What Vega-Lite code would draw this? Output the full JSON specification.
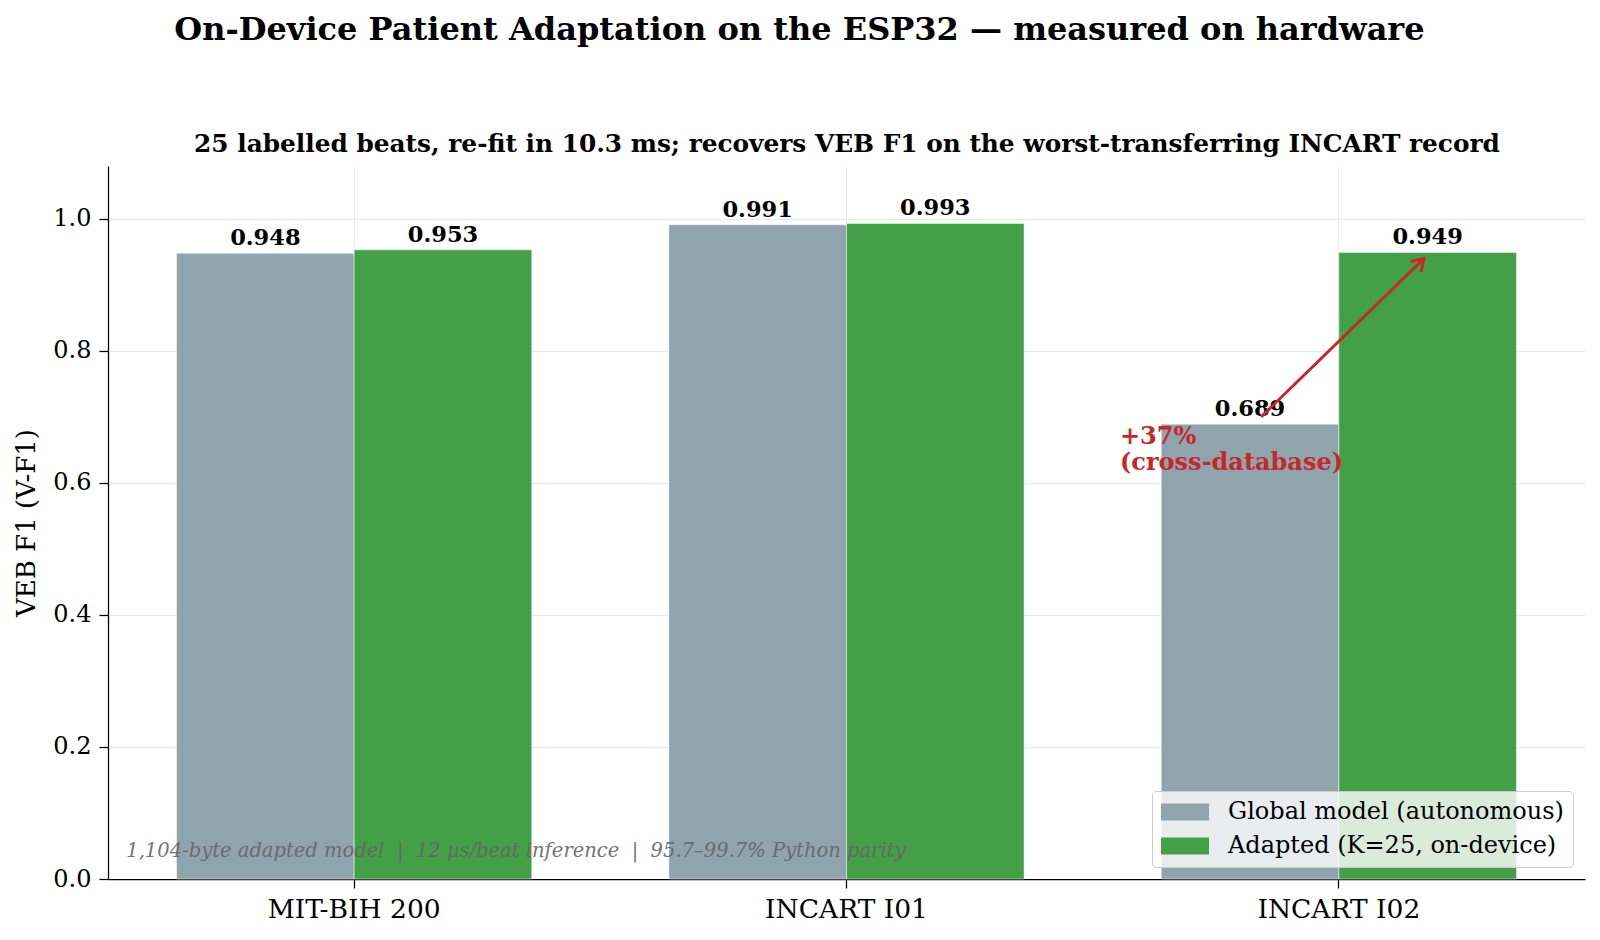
{
  "$schema": "https://vega.github.io/schema/vega-lite/v6.json",
  "width": 1477,
  "height": 713,
  "autosize": {"type": "none"},
  "padding": {"left": 108, "top": 166, "right": 15, "bottom": 61},
  "title": {
    "text": "On-Device Patient Adaptation on the ESP32 — measured on hardware",
    "frame": "bounds",
    "anchor": "middle",
    "font": "DejaVu Serif",
    "fontSize": 32,
    "fontWeight": "bold",
    "color": "black",
    "offset": 84
  },
  "config": {
    "font": "DejaVu Serif",
    "view": {"stroke": null},
    "axis": {
      "domainColor": "black",
      "domainWidth": 1.25,
      "tickColor": "black",
      "tickWidth": 1.25,
      "tickSize": 9,
      "labelColor": "black",
      "titleColor": "black",
      "gridColor": "#e8e8e8",
      "gridWidth": 1
    }
  },
  "layer": [
    {
      "data": {
        "values": [
          {"record": "MIT-BIH 200", "model": "Global model (autonomous)", "y": 0.948},
          {"record": "MIT-BIH 200", "model": "Adapted (K=25, on-device)", "y": 0.953},
          {"record": "INCART I01", "model": "Global model (autonomous)", "y": 0.991},
          {"record": "INCART I01", "model": "Adapted (K=25, on-device)", "y": 0.993},
          {"record": "INCART I02", "model": "Global model (autonomous)", "y": 0.689},
          {"record": "INCART I02", "model": "Adapted (K=25, on-device)", "y": 0.949}
        ]
      },
      "encoding": {
        "x": {
          "field": "record",
          "type": "nominal",
          "sort": ["MIT-BIH 200", "INCART I01", "INCART I02"],
          "scale": {"paddingInner": 0, "paddingOuter": 0},
          "axis": {
            "title": null,
            "labelAngle": 0,
            "bandPosition": 0.5,
            "grid": true,
            "labelFontSize": 26.5,
            "labelPadding": 8
          }
        },
        "xOffset": {
          "field": "model",
          "type": "nominal",
          "sort": ["Global model (autonomous)", "Adapted (K=25, on-device)"],
          "scale": {"paddingInner": 0, "paddingOuter": 0.386}
        },
        "y": {
          "field": "y",
          "type": "quantitative",
          "scale": {"domain": [0, 1.08], "nice": false},
          "axis": {
            "title": "VEB F1 (V-F1)",
            "values": [0, 0.2, 0.4, 0.6, 0.8, 1.0],
            "format": ".1f",
            "grid": true,
            "labelFontSize": 24,
            "labelPadding": 8,
            "titleFontSize": 26,
            "titleFontWeight": "normal",
            "titlePadding": 13
          }
        }
      },
      "layer": [
        {
          "mark": {"type": "bar", "stroke": "white", "strokeWidth": 0.5},
          "encoding": {
            "color": {
              "field": "model",
              "type": "nominal",
              "scale": {
                "domain": ["Global model (autonomous)", "Adapted (K=25, on-device)"],
                "range": ["#90a4ae", "#43a047"]
              },
              "legend": {
                "title": null,
                "orient": "bottom-right",
                "offset": 12,
                "padding": 9,
                "fillColor": "rgba(255,255,255,0.8)",
                "strokeColor": "#cccccc",
                "cornerRadius": 4,
                "symbolType": "M-2,-0.7H2V0.7H-2Z",
                "symbolSize": 576,
                "symbolOffset": 12,
                "symbolStrokeWidth": 0,
                "symbolOpacity": 1,
                "labelFont": "DejaVu Serif",
                "labelFontSize": 24,
                "labelColor": "black",
                "labelOffset": 31,
                "labelLimit": 600,
                "rowPadding": 10
              }
            }
          }
        },
        {
          "mark": {
            "type": "text",
            "baseline": "alphabetic",
            "dy": -8,
            "fontSize": 22.5,
            "fontWeight": "bold",
            "color": "black"
          },
          "encoding": {
            "text": {"field": "y", "type": "quantitative", "format": ".3f"}
          }
        }
      ]
    },
    {
      "encoding": {
        "x": {
          "field": "x",
          "type": "quantitative",
          "scale": {"domain": [-0.496, 2.496], "nice": false, "zero": false},
          "axis": {
            "orient": "top",
            "title": "25 labelled beats, re-fit in 10.3 ms; recovers VEB F1 on the worst-transferring INCART record",
            "titleFontSize": 24.8,
            "titleFontWeight": "bold",
            "titleBaseline": "alphabetic",
            "titlePadding": 15,
            "labels": false,
            "ticks": false,
            "domain": false,
            "grid": false
          }
        },
        "y": {
          "field": "y",
          "type": "quantitative",
          "scale": {"domain": [0, 1.08], "nice": false},
          "axis": {
            "title": "VEB F1 (V-F1)",
            "values": [0, 0.2, 0.4, 0.6, 0.8, 1.0],
            "format": ".1f",
            "grid": true,
            "labelFontSize": 24,
            "labelPadding": 8,
            "titleFontSize": 26,
            "titleFontWeight": "normal",
            "titlePadding": 13
          }
        }
      },
      "layer": [
        {
          "data": {"values": [{"x": 1.84, "y": 0.70, "x2": 2.17, "y2": 0.94}]},
          "mark": {"type": "rule", "color": "#c62828", "strokeWidth": 3},
          "encoding": {
            "x2": {"field": "x2"},
            "y2": {"field": "y2"}
          }
        },
        {
          "data": {"values": [{"x": 2.17, "y": 0.94}]},
          "mark": {
            "type": "point",
            "shape": "M-0.5,0.8L0,0L0.5,0.8",
            "filled": false,
            "angle": 45,
            "size": 900,
            "stroke": "#c62828",
            "strokeWidth": 3,
            "opacity": 1
          }
        },
        {
          "data": {"values": [{"x": 1.554, "y": 0.6595, "label": "+37%\n(cross-database)"}]},
          "mark": {
            "type": "text",
            "align": "left",
            "baseline": "alphabetic",
            "lineBreak": "\n",
            "lineHeight": 26,
            "fontSize": 24,
            "fontWeight": "bold",
            "color": "#c62828"
          },
          "encoding": {"text": {"field": "label"}}
        },
        {
          "data": {"values": [{"x": -0.459, "y": 0.0333, "label": "1,104-byte adapted model \u00a0|\u00a0 12 µs/beat inference \u00a0|\u00a0 95.7–99.7% Python parity"}]},
          "mark": {
            "type": "text",
            "align": "left",
            "baseline": "alphabetic",
            "fontSize": 19.5,
            "fontStyle": "italic",
            "color": "#666666",
            "opacity": 0.9
          },
          "encoding": {"text": {"field": "label"}}
        }
      ]
    }
  ],
  "resolve": {"scale": {"x": "independent"}}
}
